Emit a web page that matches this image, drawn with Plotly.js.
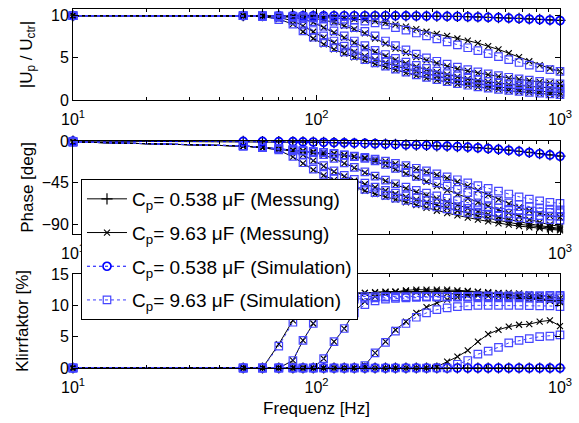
<!DOCTYPE html>
<html>
<head>
<meta charset="utf-8">
<script src="https://cdn.plot.ly/plotly-3.0.1.min.js"></script>
<style>html,body{margin:0;padding:0;background:#fff;} #chart{width:579px;height:423px;}</style>
</head>
<body>
<div id="chart"></div>
<script>
// Frequencies [Hz]
const freq = [10, 50, 60, 70, 80, 88, 97, 107, 118, 130, 143, 158, 174, 192, 211, 233, 257, 283, 312, 344, 379, 418, 460, 507, 559, 616, 679, 748, 825, 909, 1000];

// |Up/Uctr|
const magSmallMeas = [10,10,10,10,10,10,10,10,10,10,10,10,10,10,10,9.99,9.98,9.97,9.96,9.94,9.92,9.89,9.86,9.82,9.78,9.73,9.68,9.62,9.56,9.5,9.44];
const magSmallSim  = [10,10,10,10,10,10,10,10,10,10,10,10,10,10,9.99,9.98,9.97,9.96,9.95,9.93,9.91,9.88,9.85,9.81,9.77,9.72,9.67,9.61,9.55,9.49,9.43];
const magMeasA = [10,10,10,10,9.95,9.9,9.85,9.8,9.75,9.7,9.6,9.5,9.35,9.15,8.95,8.7,8.4,8.1,7.85,7.6,7.3,7.05,6.75,6.4,6.0,5.55,5.1,4.6,4.15,3.75,3.4];
const magMeasB = [10,10,10,9.95,9.9,9.8,9.7,9.5,9.2,8.8,8.4,7.9,7.3,6.7,6.1,5.6,5.1,4.7,4.35,4.0,3.7,3.45,3.2,3.0,2.8,2.6,2.45,2.3,2.15,2.03,1.9];
const magMeasC = [10,10,10,9.9,9.8,9.6,9.2,8.6,8.0,7.4,6.8,6.2,5.7,5.2,4.75,4.35,3.95,3.6,3.3,3.0,2.75,2.5,2.3,2.15,2.0,1.85,1.72,1.62,1.52,1.45,1.38];
const magMeasD = [10,10,9.95,9.8,9.4,8.8,8.1,7.4,6.8,6.2,5.7,5.2,4.8,4.4,4.05,3.7,3.4,3.1,2.8,2.55,2.3,2.1,1.9,1.72,1.55,1.4,1.27,1.15,1.05,0.95,0.87];
const magMeasE = [10,10,9.9,9.6,9.0,8.1,7.3,6.6,6.0,5.5,5.05,4.65,4.25,3.9,3.55,3.2,2.9,2.6,2.35,2.1,1.9,1.7,1.52,1.36,1.22,1.1,0.98,0.87,0.77,0.68,0.6];
const magSimA = [10,10,10,10,9.95,9.9,9.85,9.8,9.7,9.6,9.5,9.35,9.15,8.9,8.6,8.3,7.95,7.6,7.25,6.9,6.55,6.2,5.85,5.5,5.15,4.8,4.45,4.15,3.85,3.6,3.4];
const magSimB = [10,10,10,9.95,9.9,9.85,9.75,9.6,9.35,9.0,8.6,8.15,7.6,7.0,6.45,5.95,5.45,5.0,4.6,4.25,3.9,3.6,3.35,3.1,2.9,2.7,2.5,2.35,2.2,2.05,1.92];
const magSimC = [10,10,10,9.9,9.8,9.65,9.3,8.75,8.2,7.6,7.0,6.45,5.9,5.4,4.95,4.5,4.1,3.75,3.42,3.12,2.85,2.6,2.4,2.22,2.06,1.92,1.79,1.68,1.58,1.5,1.42];
const magSimD = [10,10,9.95,9.8,9.45,8.9,8.25,7.6,7.0,6.4,5.9,5.4,5.0,4.6,4.2,3.85,3.52,3.2,2.9,2.62,2.38,2.16,1.96,1.78,1.6,1.45,1.31,1.19,1.08,0.98,0.9];
const magSimE = [10,10,9.9,9.55,9.0,8.2,7.45,6.8,6.2,5.7,5.25,4.8,4.4,4.02,3.66,3.3,2.98,2.68,2.42,2.17,1.95,1.75,1.57,1.41,1.27,1.14,1.02,0.91,0.81,0.72,0.64];

// Phase [deg]
const phSmallMeas = [0,-0.5,-0.6,-0.7,-0.8,-1.0,-1.2,-1.5,-1.8,-2.1,-2.4,-2.7,-3.0,-3.4,-3.7,-4.1,-4.4,-4.8,-5.2,-5.6,-6.0,-6.6,-7.2,-8.0,-8.9,-9.9,-11.0,-12.3,-13.6,-14.9,-16.2];
const phSmallSim  = [0,-0.4,-0.5,-0.6,-0.7,-0.9,-1.1,-1.4,-1.7,-2.0,-2.3,-2.6,-2.9,-3.3,-3.6,-4.0,-4.3,-4.7,-5.1,-5.5,-6.0,-6.6,-7.3,-8.1,-9.0,-10.0,-11.1,-12.4,-13.7,-15.0,-16.4];
const phMeasA = [-1,-5.4,-7,-8.5,-9.5,-10.5,-11.5,-12.5,-13.5,-15,-16.5,-18,-20,-22,-24.5,-27,-30,-33,-36.5,-40,-44,-48.5,-53,-58,-63,-67.5,-71.5,-75,-78,-80.5,-82];
const phMeasB = [-1,-5.4,-7,-8.5,-9.7,-10.7,-11.7,-12.8,-14,-15.5,-17,-19,-22,-26,-30.5,-35,-39.5,-44,-48.5,-53,-57.5,-62,-66,-70,-74,-77.5,-81,-84.5,-87.5,-90,-92];
const phMeasC = [-1,-5.4,-7,-8.5,-10,-11,-12.5,-15,-19,-24,-29,-34,-38.5,-43,-47,-51,-55,-58.5,-62,-65.5,-69,-72.5,-76,-79,-82,-84.5,-87,-89,-91,-92.5,-94];
const phMeasD = [-1,-5.4,-7,-8.7,-11,-15,-21,-27,-33,-38,-42.5,-46.5,-50,-53.5,-57,-60,-63,-66,-69,-72,-75,-78,-80.5,-83,-85.5,-87.5,-89.5,-91,-92.5,-93.7,-95];
const phMeasE = [-1,-5.4,-7,-10,-17,-24,-31,-37,-42,-46,-50,-53.5,-57,-60,-63,-66,-69,-72,-75,-77.5,-80,-82.5,-84.5,-86.5,-88.5,-90,-91.5,-92.8,-94,-95,-96];
const phSimA = [-1,-5.2,-6.8,-8.3,-9.3,-10.3,-11.3,-12.3,-13.3,-14.8,-16.2,-17.7,-19.6,-21.6,-24,-26.5,-29.3,-32.2,-35.3,-38.5,-41.7,-45,-48,-51,-54,-57,-60,-62.5,-64.5,-66,-67];
const phSimB = [-1,-5.2,-6.8,-8.3,-9.5,-10.5,-11.5,-12.6,-13.8,-15.2,-16.7,-18.6,-21.4,-25.2,-29.4,-33.7,-38,-41.5,-45,-48.5,-52,-55.5,-58.5,-61.5,-64,-66.5,-68.5,-70.5,-72,-73.2,-74];
const phSimC = [-1,-5.2,-6.8,-8.3,-9.8,-10.8,-12.3,-14.7,-18.6,-23.5,-28.4,-33.3,-37.7,-42,-46,-49.5,-53,-56,-59,-61.5,-64,-66.5,-68.5,-70.5,-72,-73.5,-74.5,-75.5,-76.3,-76.8,-77];
const phSimD = [-1,-5.2,-6.8,-8.5,-10.7,-14.6,-20.5,-26.4,-32.2,-37,-41.3,-45.3,-49.5,-53,-56,-59,-61.5,-64,-66.5,-68.5,-70.5,-72.5,-74,-75.5,-76.8,-77.8,-78.8,-79.5,-80.2,-80.7,-81];
const phSimE = [-1,-5.2,-6.8,-9.6,-16.5,-23.4,-30.3,-36,-40.8,-44.8,-48.5,-52,-55.5,-58.5,-61.5,-64,-66.5,-69,-71,-73,-75,-76.8,-78.3,-79.6,-80.8,-81.8,-82.7,-83.5,-84.1,-84.6,-85];

// Klirrfaktor [%]
const kSmallMeas = [0,0,0,0,0,0,0,0,0,0,0,0,0,0,0,0,0,0,0,0,0,0,0,0,0,0,0,0,0,0,0];
const kSmallSim  = [0,0,0,0,0,0,0,0,0,0,0,0,0,0,0,0,0,0,0,0,0,0,0,0,0,0,0,0,0,0,0];
const kMeasA = [0,0,0,0,0,0,0,0,0,0,0,0,0,0,0,0,0,0,0.2,1.0,1.8,2.8,4.2,5.4,6.1,6.6,6.9,7.0,7.4,7.6,6.7];
const kMeasB = [0,0,0,0,0,0,0,0,0,0,0,0.4,2.4,4.2,6.1,7.4,8.8,9.7,10.4,10.9,11.3,11.6,11.8,11.9,12.0,12.0,11.9,11.8,11.6,11.4,11.1];
const kMeasC = [0,0,0,0,0,0,0,1.5,4.2,6.3,9.0,10.6,11.4,11.9,12.2,12.4,12.5,12.5,12.5,12.5,12.4,12.3,12.2,12.1,11.9,11.7,11.5,11.3,11.1,10.9,10.7];
const kMeasD = [0,0,0,0,1.2,4.4,7.1,9.5,10.8,11.4,11.8,12.0,12.1,12.2,12.2,12.3,12.3,12.3,12.3,12.3,12.2,12.2,12.1,12.0,11.8,11.6,11.4,11.2,11.0,10.8,10.6];
const kMeasE = [0,0,0,3.8,7.6,10.0,11.2,11.6,11.8,11.9,12.0,12.0,12.0,12.1,12.1,12.1,12.1,12.0,12.0,11.9,11.8,11.7,11.6,11.5,11.4,11.3,11.2,11.0,10.9,10.7,10.5];
const kSimA = [0,0,0,0,0,0,0,0,0,0,0,0,0,0,0,0,0,0,0,0,0.6,1.2,2.2,2.7,3.3,4.0,4.4,4.7,5.0,5.1,5.3];
const kSimB = [0,0,0,0,0,0,0,0,0,0,0,0.4,2.4,4.1,5.9,7.1,8.1,8.8,9.3,9.6,9.8,9.9,10.0,10.0,10.0,10.0,10.0,9.95,9.9,9.9,9.8];
const kSimC = [0,0,0,0,0,0,0,1.5,4.2,6.3,8.8,10.1,10.7,11.0,11.1,11.2,11.25,11.3,11.3,11.3,11.3,11.3,11.3,11.3,11.3,11.25,11.25,11.2,11.2,11.2,11.2];
const kSimD = [0,0,0,0,1.2,4.4,7.1,9.2,10.3,10.8,11.0,11.1,11.2,11.3,11.3,11.3,11.4,11.4,11.4,11.4,11.4,11.4,11.4,11.4,11.4,11.4,11.4,11.5,11.5,11.5,11.5];
const kSimE = [0,0,0,3.5,7.3,9.6,10.6,11.0,11.2,11.3,11.4,11.4,11.4,11.4,11.4,11.4,11.4,11.4,11.4,11.4,11.4,11.4,11.5,11.5,11.5,11.5,11.5,11.5,11.5,11.6,11.6];

const legendNames = {
  m1: 'C<sub>p</sub>= 0.538 μF (Messung)',
  m2: 'C<sub>p</sub>= 9.63 μF (Messung)',
  s1: 'C<sub>p</sub>= 0.538 μF (Simulation)',
  s2: 'C<sub>p</sub>= 9.63 μF (Simulation)'
};

const styles = {
  m1: {line:{color:'#000', width:1}, marker:{symbol:'cross-thin-open', size:8, color:'#000', line:{color:'#000', width:1.2}}},
  m2: {line:{color:'#000', width:1}, marker:{symbol:'x-thin-open', size:6, color:'#000', line:{color:'#000', width:1.1}}},
  s1: {line:{color:'#0000ff', width:1, dash:'dot'}, marker:{symbol:'circle-open', size:8, color:'#0000ff', line:{color:'#0000ff', width:1.7}}},
  s2: {line:{color:'#3c3cff', width:1, dash:'dot'}, marker:{symbol:'square-open', size:7.5, color:'#4646ff', line:{color:'#4646ff', width:1.2}}}
};

const shown = {};
function mk(y, axIdx, kind) {
  const sl = !shown[kind];
  shown[kind] = true;
  const s = styles[kind];
  return {
    x: freq, y: y, type: 'scatter', mode: 'lines+markers',
    xaxis: axIdx === 1 ? 'x' : 'x' + axIdx,
    yaxis: axIdx === 1 ? 'y' : 'y' + axIdx,
    name: legendNames[kind], legendgroup: kind, showlegend: sl,
    line: s.line, marker: s.marker, cliponaxis: false, hoverinfo: 'skip'
  };
}

const panels = [
  {ax:1, m1:magSmallMeas, m2:[magMeasA,magMeasB,magMeasC,magMeasD,magMeasE], s1:magSmallSim, s2:[magSimA,magSimB,magSimC,magSimD,magSimE]},
  {ax:2, m1:phSmallMeas, m2:[phMeasA,phMeasB,phMeasC,phMeasD,phMeasE], s1:phSmallSim, s2:[phSimA,phSimB,phSimC,phSimD,phSimE]},
  {ax:3, m1:kSmallMeas, m2:[kMeasA,kMeasB,kMeasC,kMeasD,kMeasE], s1:kSmallSim, s2:[kSimA,kSimB,kSimC,kSimD,kSimE]}
];

const data = [];
panels.forEach(p => {
  data.push(mk(p.m1, p.ax, 'm1'));
  p.m2.forEach(arr => data.push(mk(arr, p.ax, 'm2')));
  data.push(mk(p.s1, p.ax, 's1'));
  p.s2.forEach(arr => data.push(mk(arr, p.ax, 's2')));
});

const FONT = 'Liberation Sans, Arial, Helvetica, sans-serif';
const minorVals = [20,30,40,50,60,70,80,90,200,300,400,500,600,700,800,900];
function xax(anchor, title) {
  const a = {
    type:'log', range:[1,3], anchor: anchor,
    tickvals:[10,100,1000], ticktext:['10<sup>1</sup>','10<sup>2</sup>','10<sup>3</sup>'],
    ticks:'inside', ticklen:5, tickwidth:1, tickcolor:'#000', ticklabelstandoff:5,
    showline:true, linecolor:'#000', linewidth:1, mirror:'ticks',
    showgrid:false, zeroline:false,
    tickfont:{family:FONT, size:16, color:'#000'},
    minor:{tickvals:minorVals, ticks:'inside', ticklen:3, tickcolor:'#000', tickwidth:1, showgrid:false}
  };
  if (title) a.title = {text:title, font:{family:FONT, size:17, color:'#000'}, standoff:6};
  return a;
}
function yax(anchor, domain, range, vals, title, standoff) {
  return {
    anchor: anchor, domain: domain, range: range, tickvals: vals,
    ticks:'inside', ticklen:5, tickwidth:1, tickcolor:'#000',
    showline:true, linecolor:'#000', linewidth:1, mirror:'ticks',
    showgrid:false, zeroline:false,
    tickfont:{family:FONT, size:16, color:'#000'},
    title:{text:title, font:{family:FONT, size:17, color:'#000'}, standoff: standoff}
  };
}

const layout = {
  width:579, height:423,
  margin:{l:73, r:19, t:9, b:55},
  paper_bgcolor:'#fff', plot_bgcolor:'#fff',
  font:{family:FONT, size:16, color:'#000'},
  showlegend:true,
  xaxis: xax('y'),
  xaxis2: xax('y2'),
  xaxis3: xax('y3', 'Frequenz [Hz]'),
  yaxis: yax('x', [0.7465, 1], [0, 10.8], [0,5,10], '|U<sub>p</sub> / U<sub>ctr</sub>|', 14),
  yaxis2: yax('x2', [0.3733, 0.6323], [-100, 0], [-90,-45,0], 'Phase [deg]', 3),
  yaxis3: yax('x3', [0, 0.2618], [0, 15], [0,5,10,15], 'Klirrfaktor [%]', 18),
  legend:{
    x:0.0164, y:0.5265, xanchor:'left', yanchor:'top',
    bgcolor:'#fff', bordercolor:'#000', borderwidth:1,
    font:{family:FONT, size:19, color:'#000'},
    traceorder:'grouped', tracegroupgap:6, itemwidth:40
  }
};

Plotly.newPlot('chart', data, layout, {staticPlot:true, displayModeBar:false});
</script>
</body>
</html>
